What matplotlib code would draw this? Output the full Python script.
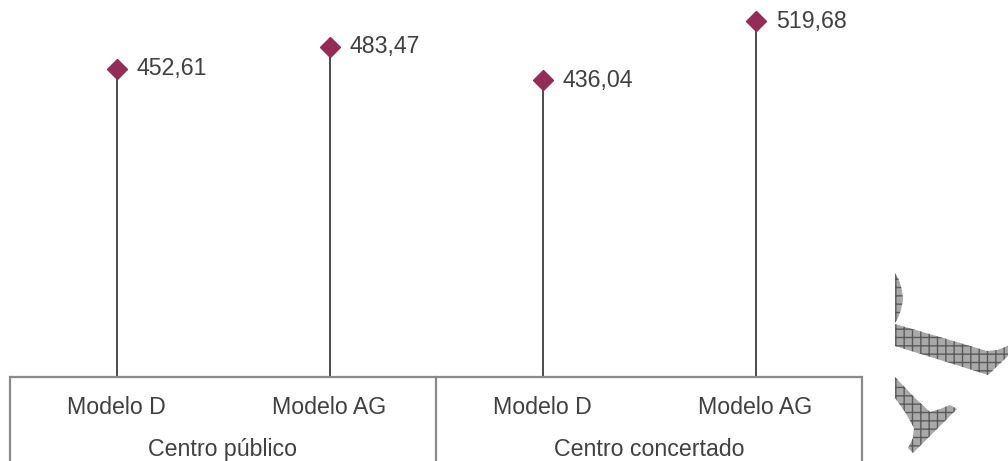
import matplotlib
matplotlib.use("Agg")
import matplotlib.pyplot as plt
from matplotlib.patches import Polygon

plt.rcParams['font.family'] = ['Liberation Sans', 'DejaVu Sans']
plt.rcParams['hatch.color'] = '#5a5a5a'
plt.rcParams['hatch.linewidth'] = 1.0

# Data
groups = ["Centro público", "Centro concertado"]
models = ["Modelo D", "Modelo AG", "Modelo D", "Modelo AG"]
values = [452.61, 483.47, 436.04, 519.68]
labels = ["452,61", "483,47", "436,04", "519,68"]

W, H, DPI = 1008, 461, 100
fig = plt.figure(figsize=(W / DPI, H / DPI), dpi=DPI)
ax = fig.add_axes([10 / W, 84 / H, 852 / W, 377 / H])

ylo, yhi = 15.6, 550
x = list(range(len(values)))
ax.set_xlim(-0.5, len(values) - 0.5)
ax.set_ylim(ylo, yhi)
ax.axis('off')

txt = '#404040'
mk = '#952B57'
box = '#8a8a8a'
fs = 16.7

ax.vlines(x, ylo, values, color='#1a1a1a', lw=1.1, zorder=2)
ax.plot(x, values, ls='none', marker='D', ms=10, color=mk, zorder=3)
for xi, v, lab in zip(x, values, labels):
    ax.annotate(lab, (xi, v), xytext=(14.5, 0), textcoords='offset points',
                va='center', ha='left', fontsize=fs, color=txt)

# category box
ax.plot([-0.5, len(values) - 0.5], [ylo, ylo], color=box, lw=1.6, clip_on=False,
        solid_capstyle='butt')
trans = ax.get_xaxis_transform()
for xv in [-0.5, 1.5, 3.5]:
    ax.plot([xv, xv], [0, -0.3], color=box, lw=1.6, clip_on=False, transform=trans)
for xi, m in zip(x, models):
    ax.text(xi, -0.0796, m, transform=trans, ha='center', va='center',
            fontsize=fs, color=txt)
for gi, g in enumerate(groups):
    ax.text(gi * 2 + 0.5, -0.191, g, transform=trans, ha='center', va='center',
            fontsize=fs, color=txt)

# watermark fragments (decoration)
ov = fig.add_axes([0, 0, 1, 1], zorder=5)
ov.set_xlim(0, W)
ov.set_ylim(H, 0)
ov.axis('off')
shapes = [
    [(895, 273), (899, 280), (902, 290), (903, 300), (901, 310), (898, 318), (895, 323)],
    [(895, 324), (950, 340), (987, 351), (997, 350), (1008, 346), (1008, 356),
     (988, 375), (950, 363), (895, 346)],
    [(895, 377), (915, 398), (930, 412), (940, 409), (950, 405), (957, 409),
     (913, 453), (908, 448), (913, 438), (914, 428), (905, 412), (895, 398)],
]
for s in shapes:
    ov.add_patch(Polygon(s, closed=True, facecolor='#a9a9a9', edgecolor='#5a5a5a',
                         hatch='++', lw=0))

fig.savefig('out.png', dpi=DPI, facecolor='white')
